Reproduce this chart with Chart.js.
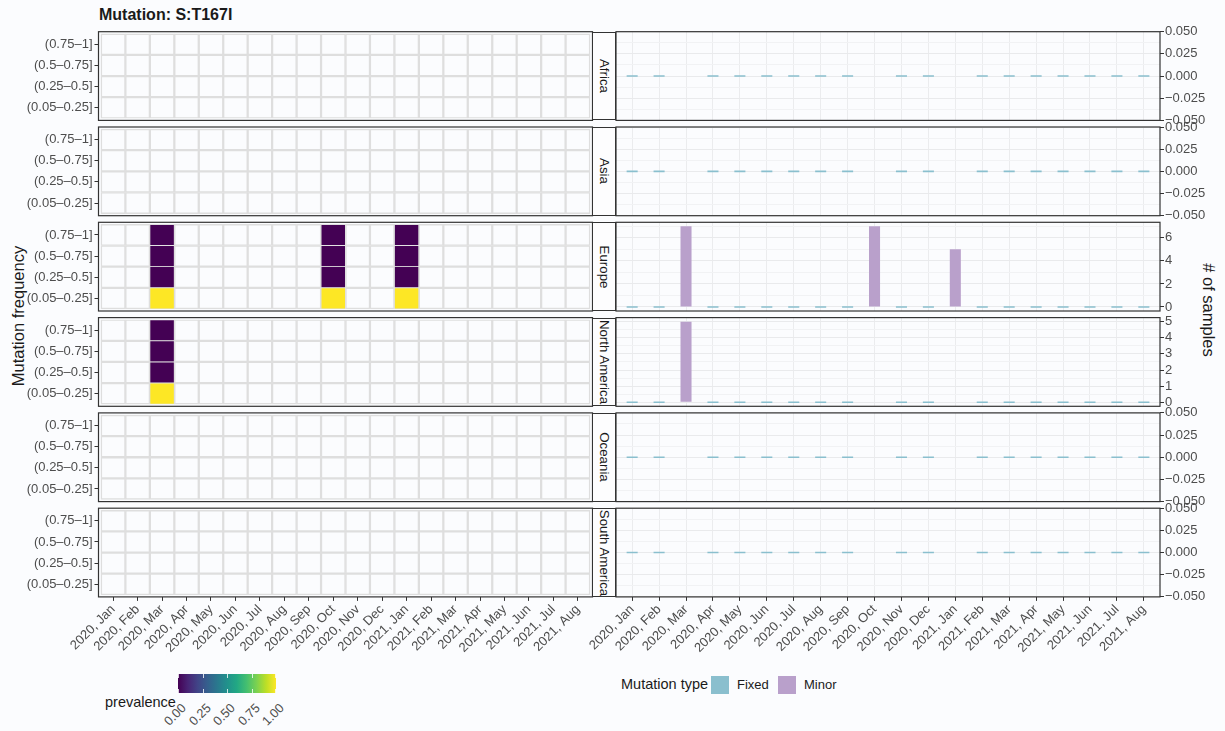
<!DOCTYPE html>
<html>
<head>
<meta charset="utf-8">
<script src="https://cdn.jsdelivr.net/npm/chart.js@4.4.1/dist/chart.umd.min.js"></script>
<style>
  body { margin: 0; background: #fbfcfe; font-family: 'Liberation Sans', Arial, sans-serif; }
  #wrap { position: relative; width: 1225px; height: 731px; overflow: hidden; }
  canvas { position: absolute; }
  .strip { position: absolute; left: 592px; width: 24px; box-sizing: border-box; border: 1px solid #333; background: #fdfdfe; overflow: hidden; }
  .strip span { position: absolute; left: 50%; top: 50%; transform: translate(-50%, -50%) rotate(90deg); white-space: nowrap; font-size: 13.3px; color: #1a1a1a; }
  .txt { position: absolute; white-space: nowrap; color: #1a1a1a; }
  .rot45 { position: absolute; white-space: nowrap; font-size: 12.7px; color: #4d4d4d; transform-origin: 100% 50%; transform: translate(-100%, -50%) rotate(-45deg); }
</style>
</head>
<body>
<div id="wrap">
  <div class="txt" style="left:99px; top:6px; font-size:16px; font-weight:bold;">Mutation: S:T167I</div>
  <div class="txt" style="left:18px; top:316px; font-size:16.5px; transform:translate(-50%,-50%) rotate(-90deg);">Mutation frequency</div>
  <div class="txt" style="left:1208px; top:310px; font-size:16.5px; transform:translate(-50%,-50%) rotate(90deg);"># of samples</div>
  <div class="txt" style="left:105px; top:694px; font-size:14.5px;">prevalence</div>
  <div id="colorbar" style="position:absolute; left:178px; top:674px; width:98px; height:19px;"></div>
  <div class="txt" style="left:621px; top:676px; font-size:14.5px;">Mutation type</div>
  <div style="position:absolute; left:711px; top:676px; width:18px; height:18px; background:#8abfce;"></div>
  <div class="txt" style="left:737px; top:677px; font-size:13px;">Fixed</div>
  <div style="position:absolute; left:778px; top:676px; width:18px; height:18px; background:#b9a0cb;"></div>
  <div class="txt" style="left:804px; top:677px; font-size:13px;">Minor</div>
</div>
<script>
const months = ['2020, Jan', '2020, Feb', '2020, Mar', '2020, Apr', '2020, May', '2020, Jun',
                '2020, Jul', '2020, Aug', '2020, Sep', '2020, Oct', '2020, Nov', '2020, Dec',
                '2021, Jan', '2021, Feb', '2021, Mar', '2021, Apr', '2021, May', '2021, Jun',
                '2021, Jul', '2021, Aug'];
const freqBins = ['(0.05\u20130.25]', '(0.25\u20130.5]', '(0.5\u20130.75]', '(0.75\u20131]'];
const regions = ['Africa', 'Asia', 'Europe', 'North America', 'Oceania', 'South America'];
const prevalenceTicks = [0, 0.25, 0.5, 0.75, 1];

// prevalence per month, one row per frequency bin (null = no samples)
const n = null;
const noData = [n, n, n, n, n, n, n, n, n, n, n, n, n, n, n, n, n, n, n, n];
const prevEurope = [
  [n, n, 1, n, n, n, n, n, n, 1, n, n, 1, n, n, n, n, n, n, n],
  [n, n, 0, n, n, n, n, n, n, 0, n, n, 0, n, n, n, n, n, n, n],
  [n, n, 0, n, n, n, n, n, n, 0, n, n, 0, n, n, n, n, n, n, n],
  [n, n, 0, n, n, n, n, n, n, 0, n, n, 0, n, n, n, n, n, n, n]
];
const prevNorthAmerica = [
  [n, n, 1, n, n, n, n, n, n, n, n, n, n, n, n, n, n, n, n, n],
  [n, n, 0, n, n, n, n, n, n, n, n, n, n, n, n, n, n, n, n, n],
  [n, n, 0, n, n, n, n, n, n, n, n, n, n, n, n, n, n, n, n, n],
  [n, n, 0, n, n, n, n, n, n, n, n, n, n, n, n, n, n, n, n, n]
];
const prevalence = [[noData, noData, noData, noData], [noData, noData, noData, noData],
                    prevEurope, prevNorthAmerica,
                    [noData, noData, noData, noData], [noData, noData, noData, noData]];

// number of samples per month
const fixedAfrica       = [0, 0, n, 0, 0, 0, 0, 0, 0, n, 0, 0, n, 0, 0, 0, 0, 0, 0, 0];
const fixedAsia         = [0, 0, n, 0, 0, 0, 0, 0, 0, n, 0, 0, n, 0, 0, 0, 0, 0, 0, 0];
const fixedEurope       = [0, 0, n, 0, 0, 0, 0, 0, 0, n, 0, 0, n, 0, 0, 0, 0, 0, 0, 0];
const fixedNorthAmerica = [0, 0, n, 0, 0, 0, 0, 0, 0, n, 0, 0, n, 0, 0, 0, 0, 0, 0, 0];
const fixedOceania      = [0, 0, n, 0, 0, 0, 0, 0, 0, n, 0, 0, n, 0, 0, 0, 0, 0, 0, 0];
const fixedSouthAmerica = [0, 0, n, 0, 0, 0, 0, 0, 0, n, 0, 0, n, 0, 0, 0, 0, 0, 0, 0];
const minorEurope       = [n, n, 7, n, n, n, n, n, n, 7, n, n, 5, n, n, n, n, n, n, n];
const minorNorthAmerica = [n, n, 5, n, n, n, n, n, n, n, n, n, n, n, n, n, n, n, n, n];
const fixedCounts = [fixedAfrica, fixedAsia, fixedEurope, fixedNorthAmerica, fixedOceania, fixedSouthAmerica];
const minorCounts = [noData, noData, minorEurope, minorNorthAmerica, noData, noData];

const FIXED_COLOR = '#8abfce';
const MINOR_COLOR = '#b9a0cb';
const viridisStops = ['#440154', '#482475', '#414487', '#355f8d', '#2a788e', '#21918c',
                      '#22a884', '#44bf70', '#7ad151', '#bddf26', '#fde725'];

function hexRgb(h) {
  return [1, 3, 5].map(i => parseInt(h.slice(i, i + 2), 16));
}
function viridis(t) {
  const s = Math.min(Math.max(t, 0), 1) * (viridisStops.length - 1);
  const i = Math.min(Math.floor(s), viridisStops.length - 2);
  const f = s - i;
  const a = hexRgb(viridisStops[i]), b = hexRgb(viridisStops[i + 1]);
  return 'rgb(' + a.map((v, k) => Math.round(v + (b[k] - v) * f)).join(',') + ')';
}

Chart.defaults.font.family = "'Liberation Sans', Arial, sans-serif";
Chart.defaults.font.size = 13;
Chart.defaults.color = '#4d4d4d';

const panelBorder = {
  id: 'panelBorder',
  afterDatasetsDraw(chart) {
    const a = chart.chartArea, ctx = chart.ctx;
    ctx.save();
    ctx.strokeStyle = '#333';
    ctx.lineWidth = 1.2;
    ctx.strokeRect(a.left, a.top, a.right - a.left, a.bottom - a.top);
    ctx.restore();
  }
};

const wrap = document.getElementById('wrap');
const PANEL_H = 88.7, PANEL_STEP = 95.3, FIRST_TOP = 31.7, PAD = 12, X_AXIS_H = 70;

function addCanvas(left, top, w, h) {
  const c = document.createElement('canvas');
  c.width = w;
  c.height = h;
  c.style.left = left + 'px';
  c.style.top = top + 'px';
  wrap.appendChild(c);
  return c;
}

function monthTicks(scale) {
  scale.ticks = months.map((m, i) => ({ value: i + 1 }));
}

function xAxis(last, onChart) {
  return {
    type: 'linear', min: 0.4, max: 20.6, offset: false,
    display: last || onChart,
    afterBuildTicks: monthTicks,
    afterFit(scale) { scale.height = last ? X_AXIS_H : 0; },
    border: { display: false },
    grid: { offset: false, drawOnChartArea: onChart, color: '#ebecee', lineWidth: 1,
            drawTicks: last, tickLength: 4, tickColor: '#333' },
    ticks: { display: last, autoSkip: false, minRotation: 45, maxRotation: 45, padding: 1,
             callback: v => months[v - 1] }
  };
}

regions.forEach((region, r) => {
  const last = r === regions.length - 1;
  const pTop = FIRST_TOP + r * PANEL_STEP;
  const top = Math.floor(pTop) - PAD;
  const padTop = pTop - top;
  const xh = last ? X_AXIS_H : 0;
  const h = Math.ceil(padTop + PANEL_H + (last ? xh : PAD));
  const padBottom = h - padTop - PANEL_H - xh;

  // heatmap of frequency bins
  const heatW = 600;
  new Chart(addCanvas(0, top, heatW, h), {
    type: 'bar',
    data: {
      datasets: freqBins.map((bin, b) => ({
        label: bin,
        data: months.map((m, i) => ({ x: i + 1, y: [b + 0.5, b + 1.5], p: prevalence[r][b][i] })),
        backgroundColor: ctx => ctx.raw && ctx.raw.p !== null ? viridis(ctx.raw.p) : 'rgba(0,0,0,0)',
        borderColor: '#dedede',
        borderWidth: 0.8,
        borderSkipped: false,
        grouped: false,
        barPercentage: 1,
        categoryPercentage: 1
      }))
    },
    options: {
      responsive: false, animation: false,
      layout: { padding: { left: 0, right: heatW - 592.5, top: padTop, bottom: padBottom } },
      plugins: { legend: { display: false }, tooltip: { enabled: false } },
      scales: {
        x: xAxis(last, false),
        y: {
          type: 'linear', min: 0.4, max: 4.6, position: 'left',
          afterBuildTicks(scale) { scale.ticks = freqBins.map((b, i) => ({ value: i + 1 })); },
          afterFit(scale) { scale.width = 98.5; },
          border: { display: false },
          grid: { drawOnChartArea: false, tickLength: 4, tickColor: '#333' },
          ticks: { padding: 2, callback: v => freqBins[v - 1] }
        }
      }
    },
    plugins: [panelBorder]
  });

  // bar chart of sample counts
  const fixed = fixedCounts[r], minor = minorCounts[r];
  const top_ = Math.max(0, ...fixed.concat(minor).filter(v => v !== null));
  const step = top_ === 0 ? 0.025 : (top_ > 5 ? 2 : 1);
  const yMin = top_ === 0 ? -0.05 : -0.05 * top_;
  const yMax = top_ === 0 ? 0.05 : 1.05 * top_;
  const half = step / 2;
  const isMajor = v => Math.round(v / half) % 2 === 0;
  const barLeft = 530, barW = 695, barPadLeft = 86;

  new Chart(addCanvas(barLeft, top, barW, h), {
    type: 'bar',
    data: {
      datasets: [
        { label: 'Fixed', data: fixed.map((v, i) => ({ x: i + 1, y: v })), backgroundColor: FIXED_COLOR,
          minBarLength: 1.6, grouped: false, barPercentage: 0.41, categoryPercentage: 1 },
        { label: 'Minor', data: minor.map((v, i) => ({ x: i + 1, y: v })), backgroundColor: MINOR_COLOR,
          grouped: false, barPercentage: 0.41, categoryPercentage: 1 }
      ]
    },
    options: {
      responsive: false, animation: false,
      layout: { padding: { left: barPadLeft, right: 0, top: padTop, bottom: padBottom } },
      plugins: { legend: { display: false }, tooltip: { enabled: false } },
      scales: {
        x: xAxis(last, true),
        y: {
          type: 'linear', min: yMin, max: yMax, position: 'right',
          afterBuildTicks(scale) {
            const ticks = [];
            for (let k = Math.ceil(yMin / half - 1e-9); k * half <= yMax + 1e-9; k++) ticks.push({ value: k * half });
            scale.ticks = ticks;
          },
          afterFit(scale) { scale.width = 65; },
          border: { display: false },
          grid: {
            color: ctx => ctx.tick && isMajor(ctx.tick.value) ? '#e9eaec' : '#f1f2f4',
            tickColor: ctx => ctx.tick && isMajor(ctx.tick.value) ? '#333' : 'rgba(0,0,0,0)',
            tickLength: 4
          },
          ticks: {
            padding: 1, autoSkip: false,
            callback: v => {
              if (!isMajor(v)) return '';
              const s = top_ === 0 ? v.toFixed(3) : String(Math.round(v));
              return s.replace('-', '\u2212');
            }
          }
        }
      }
    },
    plugins: [panelBorder]
  });

  const strip = document.createElement('div');
  strip.className = 'strip';
  strip.style.top = pTop + 'px';
  strip.style.height = PANEL_H + 'px';
  strip.innerHTML = '<span>' + region + '</span>';
  wrap.appendChild(strip);
});

// prevalence colour bar
const bar = document.getElementById('colorbar');
bar.style.background = 'linear-gradient(to right,' +
  viridisStops.map((c, i) => c + ' ' + (i * 100 / (viridisStops.length - 1)) + '%').join(',') + ')';
prevalenceTicks.forEach(t => {
  const x = t * 98;
  ['top:0', 'bottom:0'].forEach(pos => {
    const m = document.createElement('div');
    m.style.cssText = 'position:absolute;width:1px;height:4px;background:rgba(255,255,255,0.8);left:' +
      (Math.min(x, 97)) + 'px;' + pos;
    bar.appendChild(m);
  });
  const lab = document.createElement('div');
  lab.className = 'rot45';
  lab.textContent = t.toFixed(2);
  lab.style.left = (178 + x + 6) + 'px';
  lab.style.top = '706px';
  wrap.appendChild(lab);
});
</script>
</body>
</html>
